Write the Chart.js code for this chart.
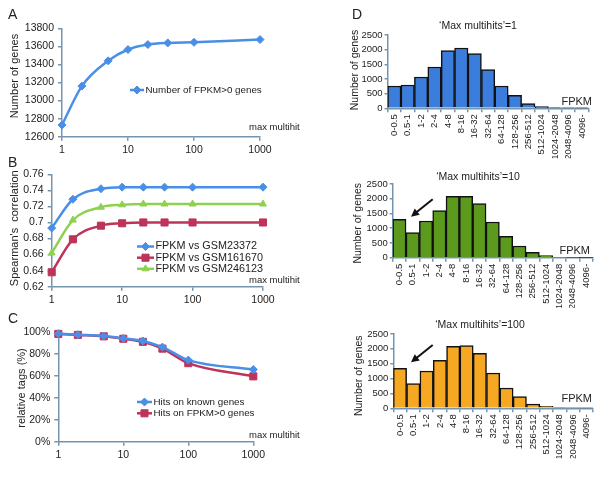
<!DOCTYPE html>
<html lang="en">
<head>
<meta charset="UTF-8">
<title>Max multihits</title>
<script src="https://cdn.jsdelivr.net/npm/chart.js"></script>
<style>
  body { margin: 0; width: 600px; height: 482px; position: relative; background: #fff; overflow: hidden; }
  canvas { position: absolute; }
</style>
</head>
<body>
<canvas id="chartA" width="300" height="160" style="left:0;top:0"></canvas>
<canvas id="chartB" width="300" height="155" style="left:0;top:155px"></canvas>
<canvas id="chartC" width="300" height="172" style="left:0;top:310px"></canvas>
<canvas id="chartD1" width="300" height="166" style="left:300px;top:0"></canvas>
<canvas id="chartD2" width="300" height="148" style="left:300px;top:166px"></canvas>
<canvas id="chartD3" width="300" height="168" style="left:300px;top:314px"></canvas>

<script>
// x values (max multihits) and data
const multihits = [1, 2, 5, 10, 20, 40, 100, 1000];
const logTicks = [1, 10, 100, 1000];

const genesFpkm = [12730, 13160, 13440, 13565, 13620, 13638, 13645, 13675];

const corrGsm23372 = [0.693, 0.729, 0.742, 0.744, 0.744, 0.744, 0.744, 0.744];
const corrGsm161670 = [0.638, 0.679, 0.696, 0.699, 0.700, 0.700, 0.700, 0.700];
const corrGsm246123 = [0.662, 0.703, 0.719, 0.722, 0.723, 0.723, 0.723, 0.723];

const hitsKnown = [98.2, 97.3, 96.0, 93.9, 91.6, 86.0, 74.2, 65.6];
const hitsFpkm = [98.0, 97.1, 95.8, 93.6, 90.8, 84.6, 71.4, 59.4];

const fpkmBins = ['0-0.5', '0.5-1', '1-2', '2-4', '4-8', '8-16', '16-32', '32-64', '64-128',
  '128-256', '256-512', '512-1024', '1024-2048', '2048-4096', '4096-'];
const countsMax1 = [760, 795, 1068, 1409, 1966, 2057, 1864, 1318, 761, 443, 159, 57, 23, 11, 3];
const countsMax10 = [1300, 848, 1244, 1595, 2081, 2081, 1833, 1210, 724, 396, 181, 68, 23, 11, 3];
const countsMax100 = [1345, 830, 1256, 1614, 2085, 2107, 1850, 1188, 684, 392, 146, 67, 34, 11, 3];

const FONT = "'Liberation Sans', Arial, sans-serif";
const axisColor = '#7594ad';
const blue = '#4a8fe7';
const red = '#be3359';
const green = '#8fd14f';

function drawText(ctx, t) {
    ctx.save();
    ctx.font = (t.size || 11) + 'px ' + FONT;
    ctx.fillStyle = '#222';
    ctx.textAlign = t.align || 'left';
    ctx.textBaseline = 'middle';
    ctx.translate(t.x, t.y);
    if (t.rot) ctx.rotate(t.rot * Math.PI / 180);
    ctx.fillText(t.text, 0, 0);
    ctx.restore();
}

// panel letters, axis titles, legends and arrows
function overlay(cfg) {
    return {
        id: 'overlay',
        afterDraw(chart) {
            const ctx = chart.ctx;
            (cfg.texts || []).forEach(t => drawText(ctx, t));
            (cfg.legend || []).forEach((item, i) => {
                const ds = chart.data.datasets[i];
                ctx.save();
                ctx.strokeStyle = ds.borderColor;
                ctx.lineWidth = ds.borderWidth;
                ctx.beginPath();
                ctx.moveTo(item.x0, item.y);
                ctx.lineTo(item.x1, item.y);
                ctx.stroke();
                ctx.fillStyle = ds.borderColor;
                ctx.lineWidth = 1;
                Chart.helpers.drawPoint(ctx, { pointStyle: ds.pointStyle, radius: ds.pointRadius, borderWidth: 1, rotation: 0 },
                    (item.x0 + item.x1) / 2, item.y);
                ctx.restore();
                drawText(ctx, { text: ds.label, x: item.x1 + 1.5, y: item.y, size: cfg.legendSize });
            });
            if (cfg.arrow) {
                const a = cfg.arrow;
                const ang = Math.atan2(a.y1 - a.y0, a.x1 - a.x0);
                ctx.save();
                ctx.strokeStyle = '#111';
                ctx.fillStyle = '#111';
                ctx.lineWidth = 2;
                ctx.beginPath();
                ctx.moveTo(a.x0, a.y0);
                ctx.lineTo(a.x1 - 5 * Math.cos(ang), a.y1 - 5 * Math.sin(ang));
                ctx.stroke();
                ctx.beginPath();
                ctx.moveTo(a.x1, a.y1);
                ctx.lineTo(a.x1 - 8 * Math.cos(ang) + 4 * Math.sin(ang), a.y1 - 8 * Math.sin(ang) - 4 * Math.cos(ang));
                ctx.lineTo(a.x1 - 8 * Math.cos(ang) - 4 * Math.sin(ang), a.y1 - 8 * Math.sin(ang) + 4 * Math.cos(ang));
                ctx.closePath();
                ctx.fill();
                ctx.restore();
            }
        }
    };
}

function lineSet(label, values, color, style, radius) {
    return {
        label: label,
        data: multihits.map((x, i) => ({ x: x, y: values[i] })),
        borderColor: color,
        backgroundColor: color,
        pointBackgroundColor: color,
        pointBorderColor: color,
        pointStyle: style,
        pointRadius: radius,
        pointBorderWidth: 1,
        borderWidth: 2.5,
        cubicInterpolationMode: 'monotone',
        clip: false
    };
}

function logAxis() {
    return {
        type: 'logarithmic',
        min: 1,
        max: 1000,
        afterBuildTicks: s => { s.ticks = logTicks.map(v => ({ value: v })); },
        afterFit: s => { s.height = 20; },
        border: { color: axisColor, width: 1.5 },
        grid: { drawOnChartArea: false, tickLength: 4, color: axisColor, lineWidth: 1.5 },
        ticks: { color: '#222', font: { family: FONT, size: 10.5 }, padding: 3, autoSkip: false, maxRotation: 0,
            callback: v => String(v) }
    };
}

function valueAxis(min, max, step, fmt, width, size) {
    return {
        min: min,
        max: max,
        afterFit: s => { s.width = width; },
        border: { color: axisColor, width: 1.5 },
        grid: { drawOnChartArea: false, tickLength: 4, color: axisColor, lineWidth: 1.5 },
        ticks: { stepSize: step, autoSkip: false, color: '#222', font: { family: FONT, size: size }, padding: 4,
            callback: fmt }
    };
}

function padFor(area, cw, ch, yW, xH) {
    return { left: area.l - yW, top: area.t, right: cw - area.r, bottom: ch - area.b - xH };
}

function lineOptions(area, cw, ch, yAxis, yW) {
    return {
        responsive: false,
        animation: false,
        layout: { padding: padFor(area, cw, ch, yW, 20) },
        plugins: { legend: { display: false }, tooltip: { enabled: false } },
        scales: { x: logAxis(), y: yAxis }
    };
}

// A
new Chart(document.getElementById('chartA'), {
    type: 'line',
    data: { datasets: [lineSet('Number of FPKM>0 genes', genesFpkm, blue, 'rectRot', 4)] },
    options: lineOptions({ l: 62, t: 28.3, r: 260, b: 136.7 }, 300, 160,
        valueAxis(12600, 13800, 200, v => String(v), 50, 10.5), 50),
    plugins: [overlay({
        texts: [
            { text: 'A', x: 8, y: 15.5, size: 14 },
            { text: 'Number of genes', x: 15, y: 76, rot: -90, align: 'center', size: 11 },
            { text: 'max multihits', x: 249, y: 127, size: 9.5 }
        ],
        legend: [{ x0: 130, x1: 144, y: 90 }],
        legendSize: 9.8
    })]
});

// B
new Chart(document.getElementById('chartB'), {
    type: 'line',
    data: { datasets: [
        lineSet('FPKM vs GSM23372', corrGsm23372, blue, 'rectRot', 4),
        lineSet('FPKM vs GSM161670', corrGsm161670, red, 'rect', 5),
        lineSet('FPKM vs GSM246123', corrGsm246123, green, 'triangle', 4)
    ] },
    options: lineOptions({ l: 51.7, t: 19.3, r: 263, b: 131.7 }, 300, 155,
        valueAxis(0.62, 0.76, 0.02, v => String(Math.round(v * 100) / 100), 45, 10.5), 45),
    plugins: [overlay({
        texts: [
            { text: 'B', x: 8, y: 8.3, size: 14 },
            { text: 'Spearman\'s  correlation', x: 15, y: 73.3, rot: -90, align: 'center', size: 11 },
            { text: 'max multihits', x: 249, y: 125, size: 9.5 }
        ],
        legend: [{ x0: 137, x1: 154, y: 91.5 }, { x0: 137, x1: 154, y: 102.7 }, { x0: 137, x1: 154, y: 113.8 }],
        legendSize: 10.8
    })]
});

// C
new Chart(document.getElementById('chartC'), {
    type: 'line',
    data: { datasets: [
        lineSet('Hits on known genes', hitsKnown, blue, 'rectRot', 4),
        lineSet('Hits on FPKM>0 genes', hitsFpkm, red, 'rect', 5)
    ] },
    options: lineOptions({ l: 58.3, t: 21.7, r: 253.3, b: 131.7 }, 300, 172,
        valueAxis(0, 100, 20, v => v + '%', 50, 10.5), 50),
    plugins: [overlay({
        texts: [
            { text: 'C', x: 8, y: 9, size: 14 },
            { text: 'relative tags (%)', x: 22, y: 78, rot: -90, align: 'center', size: 11 },
            { text: 'max multihits', x: 249, y: 125, size: 9.5 }
        ],
        legend: [{ x0: 137, x1: 152, y: 92 }, { x0: 137, x1: 152, y: 103.3 }],
        legendSize: 9.8
    })]
});

// D histograms
function histChart(id, counts, color, area, ch, cfg) {
    return new Chart(document.getElementById(id), {
        type: 'bar',
        data: {
            labels: fpkmBins,
            datasets: [{ data: counts, backgroundColor: color, borderColor: '#111', borderWidth: 1.5,
                barPercentage: 1, categoryPercentage: 1 }]
        },
        options: {
            responsive: false,
            animation: false,
            layout: { padding: padFor(area, 300, ch, 40, 50) },
            plugins: { legend: { display: false }, tooltip: { enabled: false } },
            scales: {
                x: {
                    afterFit: s => { s.height = 50; },
                    border: { color: axisColor, width: 1.5 },
                    grid: { offset: true, drawOnChartArea: false, tickLength: 4, color: axisColor, lineWidth: 1.5 },
                    ticks: { color: '#222', font: { family: FONT, size: 9.5 }, padding: 2, autoSkip: false,
                        minRotation: 90, maxRotation: 90 }
                },
                y: {
                    min: 0,
                    max: 2500,
                    afterFit: s => { s.width = 40; },
                    border: { color: axisColor, width: 1.5 },
                    grid: { drawOnChartArea: false, tickLength: 3, color: axisColor, lineWidth: 1.5 },
                    ticks: { stepSize: 500, autoSkip: false, color: '#222', font: { family: FONT, size: 9.5 }, padding: 2,
                        callback: v => String(v) }
                }
            }
        },
        plugins: [overlay(cfg)]
    });
}

histChart('chartD1', countsMax1, '#3b7ddd', { l: 87.6, t: 35, r: 288.6, b: 108.3 }, 166, {
    texts: [
        { text: 'D', x: 52, y: 15, size: 14 },
        { text: '\u2018Max multihits\u2019=1', x: 178, y: 26.5, align: 'center', size: 10.5 },
        { text: 'Number of genes', x: 55, y: 70, rot: -90, align: 'center', size: 10.5 },
        { text: 'FPKM', x: 292, y: 102, align: 'right', size: 11 }
    ]
});

histChart('chartD2', countsMax10, '#5c9a1e', { l: 92.7, t: 18, r: 292.7, b: 91.7 }, 148, {
    texts: [
        { text: '\u2018Max multihits\u2019=10', x: 178, y: 11, align: 'center', size: 10.5 },
        { text: 'Number of genes', x: 58.5, y: 57.3, rot: -90, align: 'center', size: 10.5 },
        { text: 'FPKM', x: 290, y: 84.7, align: 'right', size: 11 }
    ],
    arrow: { x0: 132.7, y0: 33.3, x1: 111, y1: 50.7 }
});

histChart('chartD3', countsMax100, '#f7a823', { l: 93.3, t: 20, r: 293.3, b: 94.3 }, 168, {
    texts: [
        { text: '\u2018Max multihits\u2019=100', x: 180, y: 11.5, align: 'center', size: 10.5 },
        { text: 'Number of genes', x: 59, y: 61.8, rot: -90, align: 'center', size: 10.5 },
        { text: 'FPKM', x: 292, y: 85.3, align: 'right', size: 11 }
    ],
    arrow: { x0: 132.7, y0: 31, x1: 111, y1: 48.3 }
});
</script>
</body>
</html>
